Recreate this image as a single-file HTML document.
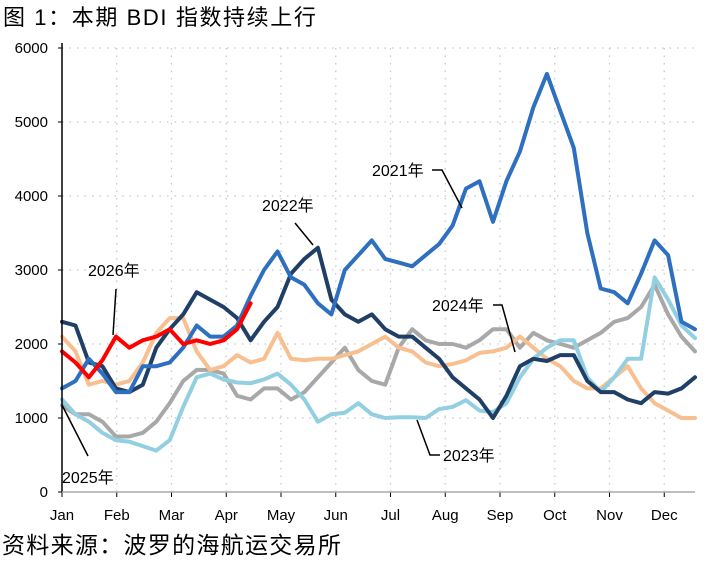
<!DOCTYPE html>
<html><head><meta charset="utf-8">
<style>
html,body{margin:0;padding:0;background:#fff;}
body{width:712px;height:557px;overflow:hidden;font-family:"Liberation Sans","Noto Sans CJK SC",sans-serif;}
</style></head>
<body>
<svg id="chart" width="712" height="557" viewBox="0 0 712 557" xmlns="http://www.w3.org/2000/svg" font-family="Liberation Sans, Noto Sans CJK SC, sans-serif">
<text x="3" y="25" font-size="22" letter-spacing="1.6" fill="#000">图 1：本期 BDI 指数持续上行</text>
<text x="2" y="553" font-size="23" letter-spacing="1.3" fill="#000">资料来源：波罗的海航运交易所</text>
<g id="grid"></g>
<g id="series"></g>
<g id="axes"></g>
<g id="annot"></g>
</svg>
<script>
const months = ["Jan","Feb","Mar","Apr","May","Jun","Jul","Aug","Sep","Oct","Nov","Dec"];
const yTicks = [0,1000,2000,3000,4000,5000,6000];
const s2021 = [1400,1500,1800,1600,1350,1350,1700,1700,1750,1950,2250,2100,2100,2250,2650,3000,3250,2900,2800,2550,2400,3000,3200,3400,3150,3100,3050,3200,3350,3600,4100,4200,3650,4200,4600,5200,5650,5150,4650,3500,2750,2700,2550,2950,3400,3200,2300,2200];
const s2022 = [2300,2250,1750,1700,1400,1350,1450,1950,2200,2400,2700,2600,2500,2350,2050,2300,2500,2950,3150,3300,2600,2400,2300,2400,2200,2100,2100,1950,1800,1550,1400,1250,1000,1300,1700,1800,1770,1850,1850,1500,1350,1350,1250,1200,1350,1330,1400,1550];
const s2023 = [1250,1050,950,800,700,680,620,560,700,1150,1550,1600,1520,1480,1470,1520,1600,1450,1250,950,1050,1070,1200,1050,1000,1010,1010,1000,1120,1150,1240,1100,1080,1200,1550,1800,1950,2050,2050,1550,1350,1550,1800,1800,2900,2600,2250,2080];
const s2024 = [2100,1900,1450,1500,1450,1500,1750,2150,2350,2350,1900,1650,1700,1850,1750,1800,2150,1800,1780,1800,1800,1850,1900,2000,2100,1950,1900,1750,1700,1730,1780,1880,1900,1950,2100,1950,1800,1700,1500,1400,1400,1550,1700,1400,1200,1100,1000,1000];
const s2025 = [1170,1050,1050,950,750,750,800,950,1200,1500,1650,1650,1600,1300,1250,1400,1400,1250,1350,1550,1750,1950,1650,1500,1450,1950,2200,2050,2000,2000,1950,2050,2200,2200,1950,2150,2050,2000,1950,2050,2150,2300,2350,2500,2800,2400,2100,1900];
const s2026 = [1900,1750,1550,1780,2100,1950,2050,2100,2200,2000,2050,2000,2050,2200,2550];
const seriesNames = ["2025","2024","2023","2022","2021","2026"];
const seriesData = [s2025,s2024,s2023,s2022,s2021,s2026];
const seriesColors = {"2021":"#2E6FBF","2022":"#203F66","2023":"#92CFE0","2024":"#F8C090","2025":"#A8A8A8","2026":"#FF0000"};

const NS="http://www.w3.org/2000/svg";
const X0=62,X1=695,Y0=492,Y1=48,NPTS=48;
function xIdx(i){return X0+i*(X1-X0)/(NPTS-1);}
function xMonth(m){return X0+m*54.75;}
function yVal(v){return Y0-(v/6000)*(Y0-Y1);}
function mk(tag,attrs,parent){const e=document.createElementNS(NS,tag);for(const k in attrs)e.setAttribute(k,attrs[k]);parent.appendChild(e);return e;}

const grid=document.getElementById('grid'),axes=document.getElementById('axes'),ser=document.getElementById('series'),ann=document.getElementById('annot');
yTicks.forEach(v=>{
  if(v>0){const g=mk('line',{x1:X0,x2:X1,y1:yVal(v),y2:yVal(v),stroke:'#c8c8c8','stroke-width':1.3,'stroke-dasharray':'1.5,6'},grid);
  
  }
  const t=mk('text',{x:48,y:yVal(v)+5,'font-size':15,'text-anchor':'end',fill:'#000'},axes);
  t.textContent=v;
  
  
  const tk=mk('line',{x1:X0-4,x2:X0,y1:yVal(v),y2:yVal(v),stroke:'#000','stroke-width':1},axes);
  
  
});
months.forEach((m,i)=>{
  const x=xMonth(i);
  if(i>0){const g=mk('line',{x1:x,x2:x,y1:Y1,y2:Y0,stroke:'#c8c8c8','stroke-width':1.3,'stroke-dasharray':'1.5,6'},grid);
  
  }
  const tk=mk('line',{x1:x,x2:x,y1:Y0,y2:Y0+5,stroke:'#000','stroke-width':1},axes);
  
  
  const t=mk('text',{x:x,y:520,'font-size':15,'text-anchor':'middle',fill:'#000'},axes);
  t.textContent=m;
  
  
});
const ya=mk('line',{x1:X0,x2:X0,y1:Y1-5,y2:Y0,stroke:'#000','stroke-width':1.5},axes);


const xa=mk('line',{x1:X0,x2:X1,y1:Y0,y2:Y0,stroke:'#aaa','stroke-width':1.5},axes);



seriesNames.forEach((n,k)=>{
  const d=seriesData[k].map((v,i)=>(i?'L':'M')+xIdx(i).toFixed(1)+','+yVal(v).toFixed(1)).join('');
  const p=mk('path',{d:d,fill:'none',stroke:seriesColors[n],'stroke-width':4,'stroke-linejoin':'round','stroke-linecap':'round'},ser);
  
  
});

function label(txt,x,y,pts,name){
  const t=mk('text',{x:x,y:y,'font-size':16,fill:'#000'},ann);
  t.textContent=txt;
  
  
  const l=mk('polyline',{points:pts,fill:'none',stroke:'#000','stroke-width':1.5},ann);
  
  
}
label('2021年',372,176,'432,170 442,170 462,208','label-2021');
label('2022年',262,211,'295,223 313,245','label-2022');
label('2026年',88,276,'116,289 113,335','label-2026');
label('2025年',62,483,'62,405 88,456','label-2025');
label('2024年',432,311,'493,305 502,305 515,352','label-2024');
label('2023年',443,461,'417,420 430,455 440,455','label-2023');
</script>
</body></html>
